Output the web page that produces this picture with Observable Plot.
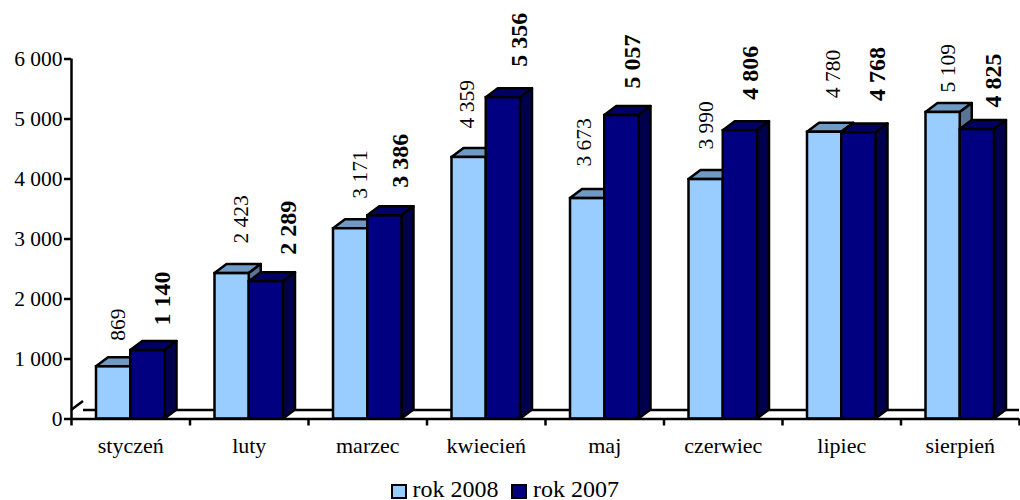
<!DOCTYPE html>
<html><head><meta charset="utf-8">
<style>
html,body{margin:0;padding:0;background:#fff;overflow:hidden}
#legend{position:relative;height:30px;font:24px "Liberation Serif",serif;color:#000}
#legend span{position:absolute;top:9px;line-height:21px;white-space:nowrap}
#legend i{position:absolute;top:14px;width:12px;height:11px;border:2.5px solid #000;box-sizing:content-box}
</style>
<script src="https://cdn.jsdelivr.net/npm/d3@7"></script>
<script src="https://cdn.jsdelivr.net/npm/@observablehq/plot@0.6"></script>
</head><body>
<div id="chart"></div>
<div id="legend"></div>
<script>
const months = ["styczeń","luty","marzec","kwiecień","maj","czerwiec","lipiec","sierpień"];
const rok2008 = [869,2423,3171,4359,3673,3990,4780,5109];
const rok2007 = [1140,2289,3386,5356,5057,4806,4768,4825];
const yTicks = [0,1000,2000,3000,4000,5000,6000];
const seriesNames = ["rok 2008","rok 2007"];

const FONT = '"Liberation Serif", serif';
const fmt = d3.formatLocale({decimal:",",thousands:" ",grouping:[3],currency:["",""]}).format(",");
const W = 1020, H = 470, ML = 71, MR = 1, MT = 58.5, MB = 51.5;
const band = (W - ML - MR) / months.length;
const INSET = 25, BARW = (band - 2 * INSET) / 2, DX = 12, DY = 9, SW = 2.5;
const ns = "http://www.w3.org/2000/svg";

function poly(g, pts, fill) {
  const p = document.createElementNS(ns, "polygon");
  p.setAttribute("points", pts.map(d => d.join(",")).join(" "));
  p.setAttribute("fill", fill);
  p.setAttribute("stroke", "#000");
  p.setAttribute("stroke-width", SW);
  p.setAttribute("stroke-linejoin", "round");
  g.appendChild(p);
}

function box(values, fill, topFill, sideFill, insetLeft, insetRight) {
  return Plot.barY(months, {
    x: d => d,
    y: (d, i) => values[i],
    fill, stroke: "#000", strokeWidth: SW,
    insetLeft, insetRight,
    render(index, scales, vals, dims, ctx, next) {
      const g = next(index, scales, vals, dims, ctx);
      const faces = document.createElementNS(ns, "g");
      for (const i of index) {
        const xL = scales.x(months[i]) + insetLeft;
        const xR = scales.x(months[i]) + band - insetRight;
        const yT = scales.y(values[i]), yB = scales.y(0);
        poly(faces, [[xL,yT],[xL+DX,yT-DY],[xR+DX,yT-DY],[xR,yT]], topFill);
        poly(faces, [[xR,yT],[xR+DX,yT-DY],[xR+DX,yB-DY],[xR,yB]], sideFill);
      }
      g.insertBefore(faces, g.firstChild);
      return g;
    }
  });
}

// Each value label sits a little differently above its bar, as in the original
function labels(values, barShift, nudgeX, lift, fontSize, fontWeight) {
  return months.map((m, i) => Plot.text([m], {
    x: d => d, y: () => values[i],
    text: () => fmt(values[i]),
    rotate: -90, textAnchor: "start",
    dx: barShift + nudgeX[i], dy: -lift[i],
    fontSize, fontWeight, fill: "#000", fontFamily: FONT
  }));
}
const nudge2008 = [4,9,9,-2,-4,0,8,5], lift2008 = [26,30,30,29,32,30,34,20];
const nudge2007 = [14,22,15,16,10,10,18,16], lift2007 = [25,27,28,31,27,31,32,22];

const chart = Plot.plot({
  width: W, height: H,
  marginLeft: ML, marginRight: MR, marginTop: MT, marginBottom: MB,
  style: {fontFamily: FONT, background: "#fff", color: "#000", overflow: "visible"},
  x: {type: "band", domain: months, padding: 0, round: false, label: null},
  y: {domain: [0, 6000], label: null},
  marks: [
    Plot.ruleY([0], {
      dy: -DY, stroke: "#000", strokeWidth: SW,
      render(index, scales, vals, dims, ctx, next) {
        const g = next(index, scales, vals, dims, ctx);
        const x0 = scales.x(months[0]), y0 = scales.y(0);
        g.querySelectorAll("line").forEach(e => e.setAttribute("x1", x0 + DX));
        const l = document.createElementNS(ns, "line");
        l.setAttribute("x1", x0); l.setAttribute("y1", y0);
        l.setAttribute("x2", x0 + DX); l.setAttribute("y2", y0 - DY);
        l.setAttribute("stroke", "#000"); l.setAttribute("stroke-width", SW);
        g.appendChild(l);
        return g;
      }
    }),
    box(rok2008, "#99ccff", "#7099c4", "#5a7594", INSET, INSET + BARW),
    box(rok2007, "#000080", "#000066", "#00004d", INSET + BARW, INSET),
    Plot.ruleY([0], {stroke: "#000", strokeWidth: SW}),
    Plot.ruleX([months[0]], {dx: -band / 2, y1: 0, y2: 6000, stroke: "#000", strokeWidth: SW}),
    Plot.axisY({ticks: yTicks, tickFormat: fmt, tickSize: 7, tickPadding: 2, fontSize: 21.5, strokeWidth: SW, stroke: "#000", fontFamily: FONT, label: null}),
    Plot.axisX({tickSize: 7, tickFormat: () => "", dx: -band / 2, strokeWidth: SW, stroke: "#000", label: null}),
    Plot.axisX({ticks: months.slice(-1), tickSize: 7, tickFormat: () => "", dx: band / 2, strokeWidth: SW, stroke: "#000", label: null}),
    Plot.axisX({tickSize: 0, tickPadding: 18, fontSize: 22, fontFamily: FONT, label: null}),
    labels(rok2008, -BARW / 2, nudge2008, lift2008, 21.5, "normal"),
    labels(rok2007, BARW / 2, nudge2007, lift2007, 24, "bold")
  ]
});
document.getElementById("chart").appendChild(chart);
chart.style.display = "block";

const legendColors = ["#99ccff", "#000080"];
const legend = document.getElementById("legend");
[[391, 412.5], [511, 533]].forEach(([sx, tx], i) => {
  const sw = document.createElement("i");
  sw.style.left = sx + "px"; sw.style.background = legendColors[i];
  const t = document.createElement("span");
  t.style.left = tx + "px"; t.textContent = seriesNames[i];
  legend.append(sw, t);
});
</script>
</body></html>
